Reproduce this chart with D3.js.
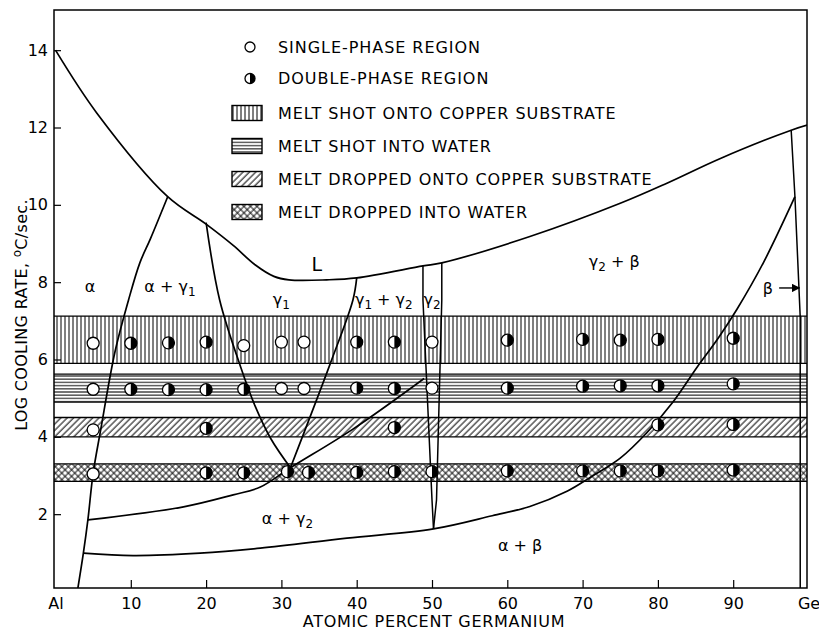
<!DOCTYPE html>
<html><head><meta charset="utf-8">
<script src="https://cdn.jsdelivr.net/npm/d3@7"></script>
<style>
body{margin:0;background:#fff;}
svg{display:block;font-family:"DejaVu Sans",sans-serif;}
</style></head><body>
<svg id="chart" width="819" height="633"></svg>
<script>
// ---------- DATA ----------
const xTickValues = [0,10,20,30,40,50,60,70,80,90,100];
const xTickText = ["Al","10","20","30","40","50","60","70","80","90","Ge"];
const yTickValues = [2,4,6,8,10,12,14];

const legendPointLabels = ["SINGLE-PHASE REGION","DOUBLE-PHASE REGION"];
const bandNames = ["MELT SHOT ONTO COPPER SUBSTRATE","MELT SHOT INTO WATER","MELT DROPPED ONTO COPPER SUBSTRATE","MELT DROPPED INTO WATER"];
const bandPatterns = ["vert","horiz","diag","cross"];
const bandLow  = [5.9, 4.9, 4.0, 2.85];
const bandHigh = [7.12, 5.62, 4.5, 3.3];

// measured points (S = single phase, D = double phase)
const shotCopperX = [5,10,15,20,25,30,33,40,45,50,60,70,75,80,90];
const shotCopperY = [6.42,6.42,6.43,6.45,6.36,6.45,6.45,6.45,6.45,6.45,6.5,6.52,6.5,6.52,6.55];
const shotCopperP = ["S","D","D","D","S","S","S","D","D","S","D","D","D","D","D"];

const shotWaterX = [5,10,15,20,25,30,33,40,45,50,60,70,75,80,90];
const shotWaterY = [5.23,5.23,5.22,5.22,5.23,5.25,5.25,5.26,5.25,5.26,5.26,5.31,5.32,5.32,5.37];
const shotWaterP = ["S","D","D","D","D","S","S","D","D","S","D","D","D","D","D"];

const dropCopperX = [5,20,45,80,90];
const dropCopperY = [4.18,4.22,4.24,4.31,4.32];
const dropCopperP = ["S","D","D","D","D"];

const dropWaterX = [5,20,25,30.8,33.6,40,45,50,60,70,75,80,90];
const dropWaterY = [3.04,3.07,3.07,3.1,3.08,3.08,3.1,3.1,3.12,3.12,3.12,3.12,3.14];
const dropWaterP = ["S","D","D","D","D","D","D","D","D","D","D","D","D"];

// phase boundaries [at.% Ge, log cooling rate]
const upperLimit = [[0,14.0],[5.5,12.37],[14.9,10.21],[20,9.5],[23.6,8.95],[26.5,8.45],[29,8.15],[31,8.06],[36,8.06],[40,8.11],[48.8,8.42],[51.3,8.5],[63,9.18],[75,10.04],[81.2,10.56],[88.3,11.2],[97.7,11.93],[100,12.07]];
const alphaSolvus = [[2.9,0.0],[3.7,0.99],[4.3,1.85],[5.0,3.06],[6.0,4.18],[7.9,6.2],[9.7,7.54],[11.2,8.5],[12.6,9.12],[14.9,10.21]];
const gamma1Left = [[20,9.54],[21.8,7.54],[24.6,5.8],[26.5,4.8],[28.6,3.95],[31.2,3.2]];
const gamma1Right = [[31.2,3.2],[36.5,5.9],[39.5,7.54],[40.0,8.11]];
const alphaGamma2Upper = [[4.3,1.85],[17,2.19],[23.6,2.5],[27.2,2.7],[31.2,3.2],[39.5,4.2],[48.95,5.51]];
const gamma2Left = [[48.8,8.42],[48.8,7.54],[50.0,2.37],[50.2,1.62]];
const gamma2Right = [[51.3,8.5],[51.3,7.54],[50.6,2.37],[50.2,1.62]];
const lowerBoundary = [[3.7,0.99],[10.3,0.93],[19.2,0.99],[27.2,1.12],[38.7,1.38],[50.2,1.62],[58,1.96],[63,2.2],[68,2.6],[71,2.95],[75,3.45],[78.5,4.1],[82,4.9],[85.2,5.8],[88,6.55],[90.5,7.3],[94,8.5],[98.2,10.21]];
const betaLine = [[97.7,11.93],[98.2,10.21],[98.9,7.1],[98.9,0.0]];

// ---------- LAYOUT ----------
const svg = d3.select("#chart");
const frame = {l:54, r:807, t:10, b:588};
const x = d3.scaleLinear().domain([0,100]).range([55.5,808.5]);
const y = d3.scaleLinear().domain([0,15]).range([591.5,11.5]);
const FS = 16;

// patterns
const defs = svg.append("defs");
const pv = defs.append("pattern").attr("id","vert").attr("patternUnits","userSpaceOnUse").attr("width",4).attr("height",10);
pv.append("line").attr("x1",1).attr("x2",1).attr("y1",0).attr("y2",10).attr("stroke","#000").attr("stroke-width",1);
const ph = defs.append("pattern").attr("id","horiz").attr("patternUnits","userSpaceOnUse").attr("width",10).attr("height",3.2);
ph.append("line").attr("x1",0).attr("x2",10).attr("y1",1.6).attr("y2",1.6).attr("stroke","#000").attr("stroke-width",1);
const pd = defs.append("pattern").attr("id","diag").attr("patternUnits","userSpaceOnUse").attr("width",4.5).attr("height",10).attr("patternTransform","rotate(45)");
pd.append("line").attr("x1",1).attr("x2",1).attr("y1",0).attr("y2",10).attr("stroke","#000").attr("stroke-width",1);
const pc = defs.append("pattern").attr("id","cross").attr("patternUnits","userSpaceOnUse").attr("width",4.6).attr("height",4.6).attr("patternTransform","rotate(45)");
pc.append("line").attr("x1",1).attr("x2",1).attr("y1",0).attr("y2",4.6).attr("stroke","#000").attr("stroke-width",0.9);
pc.append("line").attr("x1",0).attr("x2",4.6).attr("y1",1).attr("y2",1).attr("stroke","#000").attr("stroke-width",0.9);
defs.append("clipPath").attr("id","plotclip").append("rect")
  .attr("x",frame.l).attr("y",frame.t).attr("width",frame.r-frame.l).attr("height",frame.b-frame.t);

const plot = svg.append("g").attr("clip-path","url(#plotclip)");

// bands
bandNames.forEach((n,i)=>{
  const g = plot.append("g");
  g.append("rect").attr("x",frame.l).attr("width",frame.r-frame.l)
   .attr("y",y(bandHigh[i])).attr("height",y(bandLow[i])-y(bandHigh[i]))
   .attr("fill","url(#"+bandPatterns[i]+")");
  [bandHigh[i],bandLow[i]].forEach(v=>{
    g.append("line").attr("x1",frame.l).attr("x2",frame.r).attr("y1",y(v)).attr("y2",y(v))
     .attr("stroke","#000").attr("stroke-width",1.3);
  });
});

// phase boundaries
const line = d3.line().x(d=>x(d[0])).y(d=>y(d[1])).curve(d3.curveCatmullRom.alpha(0.5));
const lineStraight = d3.line().x(d=>x(d[0])).y(d=>y(d[1]));
[upperLimit,alphaSolvus,gamma1Left,gamma1Right,alphaGamma2Upper,lowerBoundary].forEach(c=>{
  plot.append("path").attr("d",line(c)).attr("fill","none").attr("stroke","#000").attr("stroke-width",1.7);
});
[gamma2Left,gamma2Right,betaLine].forEach(c=>{
  plot.append("path").attr("d",lineStraight(c)).attr("fill","none").attr("stroke","#000").attr("stroke-width",1.5);
});

// points
const R = 6;
function marker(g, cx, cy, phase, r){
  g.append("circle").attr("cx",cx).attr("cy",cy).attr("r",r).attr("fill","#fff").attr("stroke","#000").attr("stroke-width",1.3);
  if(phase==="D"){
    g.append("path").attr("transform",`translate(${cx},${cy})`)
     .attr("d",d3.arc()({innerRadius:0,outerRadius:r,startAngle:0,endAngle:Math.PI})).attr("fill","#000");
  }
}
const rows = [[shotCopperX,shotCopperY,shotCopperP],[shotWaterX,shotWaterY,shotWaterP],[dropCopperX,dropCopperY,dropCopperP],[dropWaterX,dropWaterY,dropWaterP]];
const ptG = svg.append("g");
rows.forEach(([xs,ys,ps])=>xs.forEach((v,i)=>marker(ptG,x(v),y(ys[i]),ps[i],R)));

// frame
svg.append("rect").attr("x",frame.l).attr("y",frame.t).attr("width",frame.r-frame.l).attr("height",frame.b-frame.t)
  .attr("fill","none").attr("stroke","#000").attr("stroke-width",1.5);

// axes
const yAxis = d3.axisLeft(y).tickValues(yTickValues).tickSize(-7).tickPadding(6).tickFormat(d=>d);
const gy = svg.append("g").attr("transform",`translate(${frame.l},0)`).call(yAxis);
gy.select(".domain").remove();
gy.selectAll("line").attr("stroke","#000").attr("stroke-width",1.2);
gy.selectAll("text").attr("font-size",FS).attr("font-family","DejaVu Sans").attr("fill","#000");

const xAxis = d3.axisBottom(x).tickValues(xTickValues).tickSize(-8).tickPadding(10).tickFormat((d,i)=>xTickText[i]);
const gx = svg.append("g").attr("transform",`translate(0,${frame.b})`).call(xAxis);
gx.select(".domain").remove();
gx.selectAll("line").attr("stroke","#000").attr("stroke-width",1.2)
  .attr("display",(d)=> (d===0||d===100)?"none":null);
gx.selectAll("text").attr("font-size",FS).attr("font-family","DejaVu Sans").attr("fill","#000");

svg.append("text").attr("x",434).attr("y",627).attr("text-anchor","middle").attr("font-size",FS)
  .attr("letter-spacing",0.7).text("ATOMIC PERCENT GERMANIUM");

const yl = svg.append("text").attr("transform","translate(27,315) rotate(-90)").attr("text-anchor","middle")
  .attr("font-size",FS).attr("letter-spacing",0.3);
yl.append("tspan").text("LOG COOLING RATE, ");
yl.append("tspan").attr("dy",-6).attr("font-size",12).text("o");
yl.append("tspan").attr("dy",6).text("C/sec.");

// region labels
function label(vx, vy, parts){
  const t = svg.append("text").attr("x",x(vx)).attr("y",y(vy)).attr("text-anchor","middle").attr("font-size",FS);
  let prevSub=false;
  parts.forEach(p=>{
    const sub = p.startsWith("_");
    const s = t.append("tspan").text(sub?p.slice(1):p);
    if(sub && !prevSub){ s.attr("dy",4).attr("font-size",12); }
    else if(!sub && prevSub){ s.attr("dy",-4); }
    else if(sub) s.attr("font-size",12);
    prevSub=sub;
  });
  return t;
}
label(4.6,7.75,["α"]);
label(15.2,7.75,["α + γ","_1"]);
label(30.0,7.4,["γ","_1"]);
label(43.6,7.4,["γ","_1"," + γ","_2"]);
label(50.0,7.4,["γ","_2"]);
label(74.2,8.4,["γ","_2"," + β"]);
label(94.6,7.7,["β"]);
label(30.8,1.75,["α + γ","_2"]);
label(61.7,1.05,["α + β"]);
// beta arrow
svg.append("defs").append("marker").attr("id","arr").attr("viewBox","0 0 10 10").attr("refX",9).attr("refY",5)
  .attr("markerWidth",6).attr("markerHeight",6).attr("orient","auto")
  .append("path").attr("d","M0,0L10,5L0,10z").attr("fill","#000");
svg.append("line").attr("x1",x(96.1)).attr("x2",x(98.8)).attr("y1",y(7.85)).attr("y2",y(7.85))
  .attr("stroke","#000").attr("stroke-width",1.4).attr("marker-end","url(#arr)");
// small "L" mark above the minimum
svg.append("text").attr("x",x(34.0)).attr("y",y(8.3)).attr("text-anchor","start").attr("font-size",19)
  .attr("fill","#000").text("L");

// legend
const lg = svg.append("g");
const legX = 250, legTextX = 278, legY0 = 47;
legendPointLabels.forEach((t,i)=>{
  const cy = legY0 + i*31.5;
  marker(lg, legX, cy, i===0?"S":"D", 5);
  lg.append("text").attr("x",legTextX).attr("y",cy).attr("dy","0.36em").attr("font-size",FS).attr("letter-spacing",0.95).text(t);
});
bandNames.forEach((t,i)=>{
  const cy = 113 + i*33;
  lg.append("rect").attr("x",232).attr("y",cy-7.5).attr("width",30).attr("height",15)
    .attr("fill","url(#"+bandPatterns[i]+")").attr("stroke","#000").attr("stroke-width",1.4);
  lg.append("text").attr("x",legTextX).attr("y",cy).attr("dy","0.36em").attr("font-size",FS).attr("letter-spacing",0.95).text(t);
});
</script>
</body></html>
